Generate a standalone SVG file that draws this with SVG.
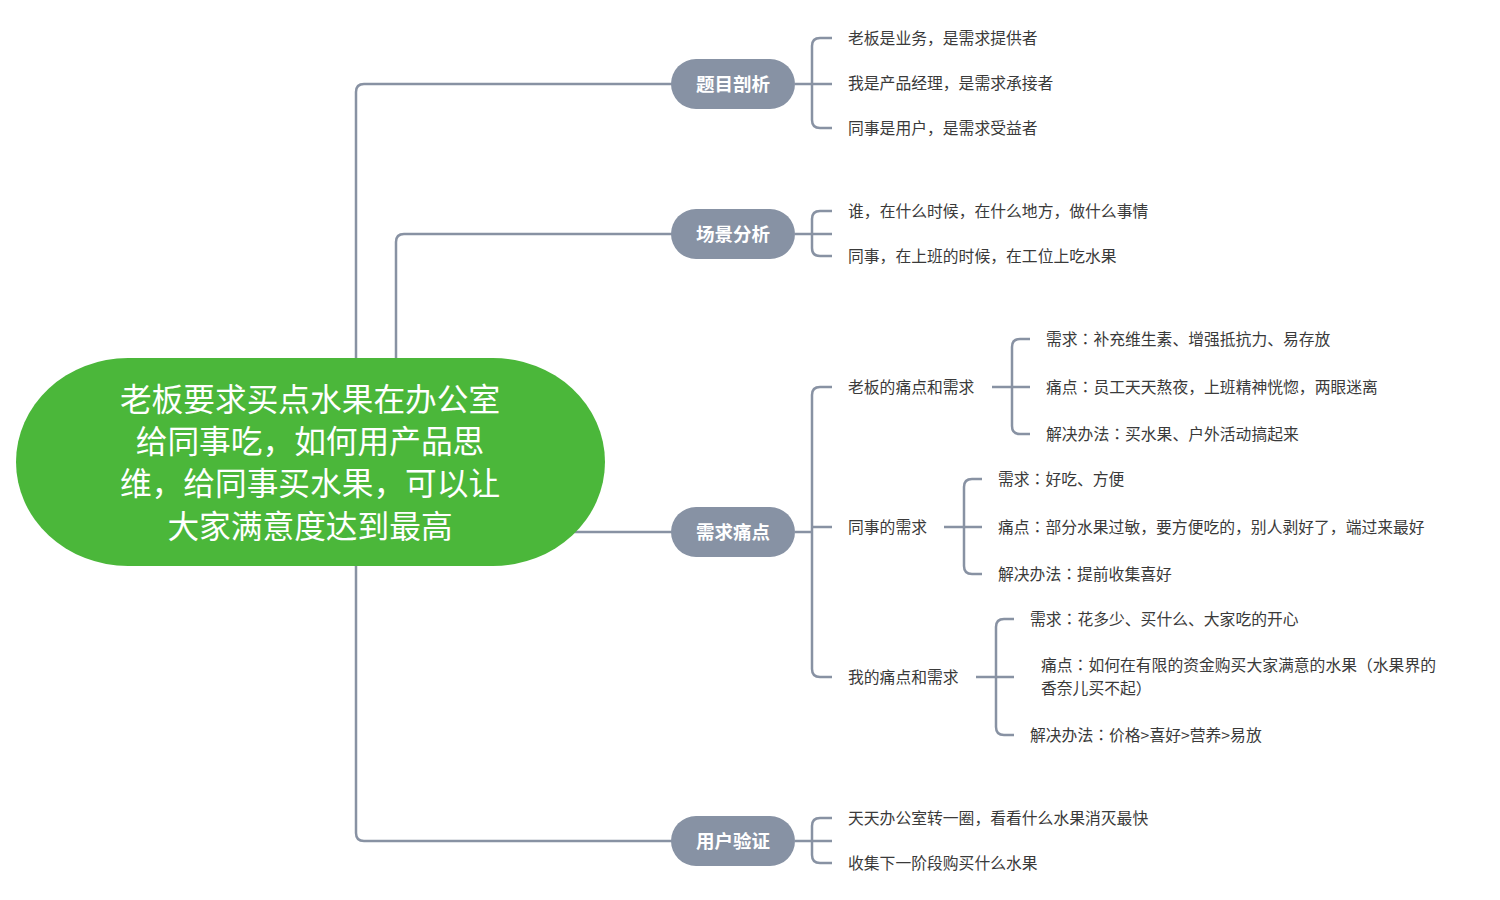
<svg xmlns="http://www.w3.org/2000/svg" width="1500" height="900" viewBox="0 0 1500 900">
<style>
.ln{fill:none;stroke:#8892a3;stroke-width:2.5;stroke-linecap:butt}
.pill{fill:#8792a4}
.bt{font-family:"Noto Sans CJK SC","Noto Sans",sans-serif;font-size:18.5px;font-weight:bold;fill:#ffffff;text-anchor:middle}
.ct{font-family:"Noto Sans CJK SC","Noto Sans",sans-serif;font-size:31.7px;fill:#ffffff;text-anchor:middle}
.t{font-family:"Noto Sans CJK SC","Noto Sans",sans-serif;font-size:15.8px;fill:#3a3a3a}
.p{font-family:"Noto Sans CJK KR","Noto Sans CJK SC",sans-serif}
</style>
<rect width="1500" height="900" fill="#ffffff"/>
<g id="connectors">
<path class="ln" d="M356,358 V92 Q356,84 364,84 H672"/>
<path class="ln" d="M396,358 V242 Q396,234 404,234 H672"/>
<path class="ln" d="M356,566 V833 Q356,841 364,841 H672"/>
<path class="ln" d="M560,532 H672"/>
<path class="ln" d="M795,84 H832 M832,38 H820 Q812,38 812,46 V120 Q812,128 820,128 H832"/>
<path class="ln" d="M795,234 H832 M832,211 H820 Q812,211 812,219 V248 Q812,256 820,256 H832"/>
<path class="ln" d="M795,532 H812 M832,387 H820 Q812,387 812,395 V669 Q812,677 820,677 H832 M812,527 H832"/>
<path class="ln" d="M795,841 H832 M832,818 H820 Q812,818 812,826 V855 Q812,863 820,863 H832"/>
<path class="ln" d="M992,387 H1030 M1030,339 H1020 Q1012,339 1012,347 V426 Q1012,434 1020,434 H1030"/>
<path class="ln" d="M944,527 H982 M982,479 H972 Q964,479 964,487 V566 Q964,574 972,574 H982"/>
<path class="ln" d="M976,677 H1014 M1014,619 H1004 Q996,619 996,627 V727 Q996,735 1004,735 H1014"/>
</g>
<g id="root">
<rect x="16" y="358" width="589" height="208" rx="112" ry="104" fill="#4bb73a"/>
<text class="ct" x="310" y="411">老板要求买点水果在办公室</text>
<text class="ct" x="310" y="453">给同事吃<tspan class="p">，</tspan>如何用产品思</text>
<text class="ct" x="310" y="495">维<tspan class="p">，</tspan>给同事买水果<tspan class="p">，</tspan>可以让</text>
<text class="ct" x="310" y="538">大家满意度达到最高</text>
</g>
<g id="b1">
<rect class="pill" x="671" y="59" width="124" height="50" rx="25"/>
<text class="bt" x="733" y="90.5">题目剖析</text>
</g>
<g id="b1c">
<text class="t" x="848" y="43.5">老板是业务<tspan class="p">，</tspan>是需求提供者</text>
<text class="t" x="848" y="88.5">我是产品经理<tspan class="p">，</tspan>是需求承接者</text>
<text class="t" x="848" y="133.5">同事是用户<tspan class="p">，</tspan>是需求受益者</text>
</g>
<g id="b2">
<rect class="pill" x="671" y="209" width="124" height="50" rx="25"/>
<text class="bt" x="733" y="240.5">场景分析</text>
</g>
<g id="b2c">
<text class="t" x="848" y="216.5">谁<tspan class="p">，</tspan>在什么时候<tspan class="p">，</tspan>在什么地方<tspan class="p">，</tspan>做什么事情</text>
<text class="t" x="848" y="261.5">同事<tspan class="p">，</tspan>在上班的时候<tspan class="p">，</tspan>在工位上吃水果</text>
</g>
<g id="b3">
<rect class="pill" x="671" y="507" width="124" height="50" rx="25"/>
<text class="bt" x="733" y="538.5">需求痛点</text>
</g>
<g id="b3a">
<text class="t" x="848" y="392.5">老板的痛点和需求</text>
<text class="t" x="1046" y="344.5">需求<tspan class="p">：</tspan>补充维生素、增强抵抗力、易存放</text>
<text class="t" x="1046" y="392.5">痛点<tspan class="p">：</tspan>员工天天熬夜<tspan class="p">，</tspan>上班精神恍惚<tspan class="p">，</tspan>两眼迷离</text>
<text class="t" x="1046" y="439.5">解决办法<tspan class="p">：</tspan>买水果、户外活动搞起来</text>
</g>
<g id="b3b">
<text class="t" x="848" y="532.5">同事的需求</text>
<text class="t" x="998" y="484.5">需求<tspan class="p">：</tspan>好吃、方便</text>
<text class="t" x="998" y="532.5">痛点<tspan class="p">：</tspan>部分水果过敏<tspan class="p">，</tspan>要方便吃的<tspan class="p">，</tspan>别人剥好了<tspan class="p">，</tspan>端过来最好</text>
<text class="t" x="998" y="579.5">解决办法<tspan class="p">：</tspan>提前收集喜好</text>
</g>
<g id="b3c">
<text class="t" x="848" y="682.5">我的痛点和需求</text>
<text class="t" x="1030" y="624.5">需求<tspan class="p">：</tspan>花多少、买什么、大家吃的开心</text>
<text class="t" x="1041" y="671">痛点<tspan class="p">：</tspan>如何在有限的资金购买大家满意的水果<tspan class="p">（</tspan>水果界的</text>
<text class="t" x="1041" y="694">香奈儿买不起<tspan class="p">）</tspan></text>
<text class="t" x="1030" y="740.5">解决办法<tspan class="p">：</tspan>价格&gt;喜好&gt;营养&gt;易放</text>
</g>
<g id="b4">
<rect class="pill" x="671" y="816" width="124" height="50" rx="25"/>
<text class="bt" x="733" y="847.5">用户验证</text>
</g>
<g id="b4c">
<text class="t" x="848" y="823.5">天天办公室转一圈<tspan class="p">，</tspan>看看什么水果消灭最快</text>
<text class="t" x="848" y="868.5">收集下一阶段购买什么水果</text>
</g>
</svg>
